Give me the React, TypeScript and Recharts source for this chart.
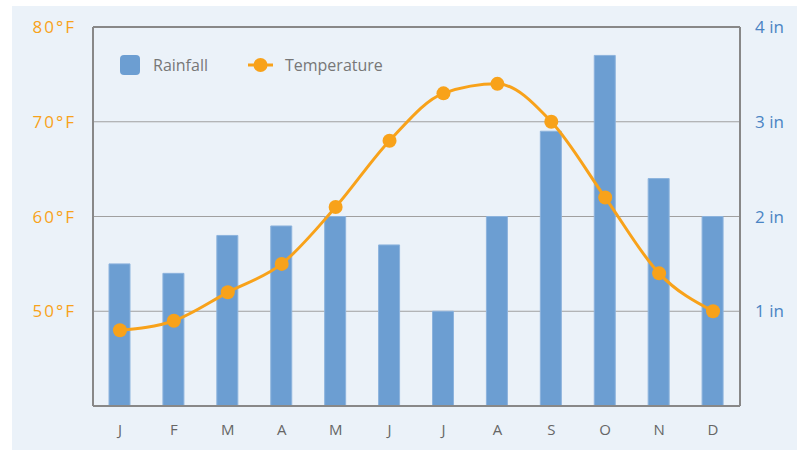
import { ComposedChart, Bar, Line, XAxis, YAxis, CartesianGrid, ReferenceLine } from "recharts";

const months = ["J", "F", "M", "A", "M", "J", "J", "A", "S", "O", "N", "D"];
const rainfall = [1.5, 1.4, 1.8, 1.9, 2.0, 1.7, 1.0, 2.0, 2.9, 3.7, 2.4, 2.0];
const temperature = [48, 49, 52, 55, 61, 68, 73, 74, 70, 62, 54, 50];
const tempTicks = [40, 50, 60, 70, 80];
const rainTicks = [0, 1, 2, 3, 4];

const data = months.map((m, i) => ({ id: i, month: m, rain: rainfall[i], temp: temperature[i] }));

const ORANGE = "#F8A21A";
const BLUE = "#6C9ED2";
const FONT = "'Open Sans', 'DejaVu Sans', sans-serif";

function LegendBox() {
  return (
    <div
      style={{
        position: "absolute",
        left: 120,
        top: 54,
        height: 22,
        display: "flex",
        alignItems: "center",
        fontFamily: FONT,
        fontSize: 16,
        color: "#777",
      }}
    >
      <span style={{ width: 20, height: 20, borderRadius: 4, background: BLUE, display: "inline-block", marginRight: 13 }} />
      <span style={{ marginRight: 40 }}>Rainfall</span>
      <svg width={25} height={16} style={{ marginRight: 12 }}>
        <line x1={0} y1={8} x2={25} y2={8} stroke={ORANGE} strokeWidth={3} />
        <circle cx={12.5} cy={8} r={7} fill={ORANGE} />
      </svg>
      <span>Temperature</span>
    </div>
  );
}

export default function App() {
  return (
    <div style={{ position: "absolute", left: 0, top: 0, width: 797, height: 450, background: "#fff" }}>
      <div style={{ position: "absolute", left: 12, top: 6, right: 0, bottom: 0, background: "#EBF2F9" }} />
      <ComposedChart
        width={797}
        height={450}
        data={data}
        margin={{ top: 27, right: 0, left: 0, bottom: 0 }}
        style={{ position: "absolute", left: 0, top: 0 }}
        barCategoryGap={0}
      >
        <CartesianGrid vertical={false} stroke="#A0A0A0" yAxisId="temp" />
        <XAxis
          dataKey="id"
          height={44}
          tickFormatter={(v: number) => months[v]}
          interval={0}
          tickLine={false}
          axisLine={{ stroke: "#888", strokeWidth: 2 }}
          tick={{ fill: "#666", fontSize: 15, fontFamily: FONT }}
          tickMargin={12}
        />
        <YAxis
          yAxisId="temp"
          orientation="left"
          width={93}
          domain={[40, 80]}
          ticks={tempTicks}
          tickFormatter={(v: number) => (v === 40 ? "" : `${v}°F`)}
          tickLine={false}
          tickSize={0}
          tickMargin={17}
          axisLine={{ stroke: "#888", strokeWidth: 2 }}
          tick={{ fill: ORANGE, fontSize: 17, fontFamily: FONT, letterSpacing: 2 }}
        />
        <YAxis
          yAxisId="rain"
          orientation="right"
          width={57}
          domain={[0, 4]}
          ticks={rainTicks}
          tickFormatter={(v: number) => (v === 0 ? "" : `${v} in`)}
          tickLine={false}
          tickSize={0}
          tickMargin={15}
          axisLine={{ stroke: "#888", strokeWidth: 2 }}
          tick={{ fill: "#4A84C4", fontSize: 17, fontFamily: FONT }}
        />
        <ReferenceLine yAxisId="temp" y={80} stroke="#888" strokeWidth={2} />
        <Bar
          yAxisId="rain"
          dataKey="rain"
          name="Rainfall"
          barSize={21}
          fill={BLUE}
          stroke="#8CB3DD"
          strokeWidth={1}
          isAnimationActive={false}
        />
        <Line
          yAxisId="temp"
          dataKey="temp"
          name="Temperature"
          type="monotone"
          stroke={ORANGE}
          strokeWidth={3}
          dot={{ r: 7, fill: ORANGE, stroke: "none" }}
          activeDot={false}
          isAnimationActive={false}
        />
      </ComposedChart>
      <LegendBox />
    </div>
  );
}
